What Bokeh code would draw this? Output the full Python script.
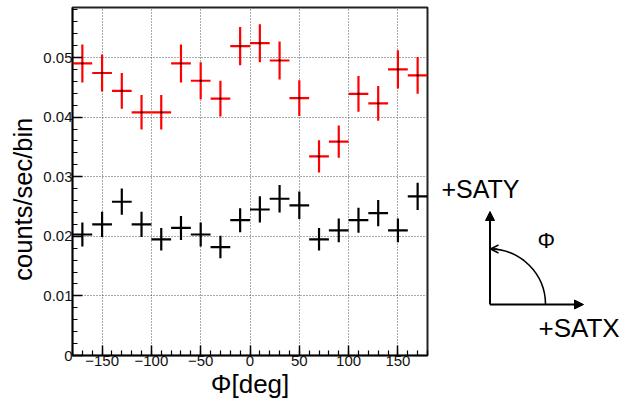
from math import pi
from bokeh.plotting import figure
from bokeh.layouts import row
from bokeh.models import Range1d, FixedTicker, Arrow, NormalHead, OpenHead
from bokeh.core.properties import value
from bokeh.embed import file_html
from bokeh.resources import INLINE

FONT = "Liberation Sans"

# ---- data ----
bin_centers = [-170, -150, -130, -110, -90, -70, -50, -30, -10,
               10, 30, 50, 70, 90, 110, 130, 150, 170]
bin_width = 20
red_vals = [0.0490, 0.0474, 0.0444, 0.0408, 0.0408, 0.0490, 0.0461, 0.0431, 0.0519,
            0.0524, 0.0495, 0.0432, 0.0334, 0.0359, 0.0439, 0.0423, 0.0480, 0.0470]
red_errs = [0.0032, 0.0031, 0.0030, 0.0029, 0.0029, 0.0032, 0.0031, 0.0030, 0.0032,
            0.0032, 0.0032, 0.0030, 0.0027, 0.0027, 0.0030, 0.0029, 0.0032, 0.0031]
black_vals = [0.0203, 0.0220, 0.0258, 0.0220, 0.0195, 0.0214, 0.0203, 0.0182, 0.0227,
              0.0245, 0.0263, 0.0252, 0.0195, 0.0210, 0.0227, 0.0239, 0.0210, 0.0267]
black_errs = [0.0020, 0.0021, 0.0022, 0.0021, 0.0019, 0.0020, 0.0020, 0.0019, 0.0020,
              0.0022, 0.0023, 0.0023, 0.0019, 0.0020, 0.0021, 0.0022, 0.0020, 0.0023]

x_ticks = [-150, -100, -50, 0, 50, 100, 150]
x_tick_labels = ["\u2212150", "\u2212100", "\u221250", "0", "50", "100", "150"]
x_minor = list(range(-180, 181, 10))
y_ticks = [0, 0.01, 0.02, 0.03, 0.04, 0.05]
y_tick_labels = ["0", "0.01", "0.02", "0.03", "0.04", "0.05"]
y_minor = [i * 0.002 for i in range(0, 30)]

x_title = "\u03a6[deg]"
y_title = "counts/sec/bin"

# ---- main plot ----
p = figure(width=430, height=405,
           x_range=Range1d(-180, 180), y_range=Range1d(0, 0.05839),
           output_backend="svg", toolbar_location=None, title=None,
           min_border_left=72, min_border_right=3, min_border_top=7, min_border_bottom=50)
p.align = "start"
p.background_fill_color = "white"
p.border_fill_color = "white"
p.outline_line_color = "#222222"
p.outline_line_width = 2

p.xaxis.ticker = FixedTicker(ticks=x_ticks, minor_ticks=x_minor)
p.yaxis.ticker = FixedTicker(ticks=y_ticks, minor_ticks=y_minor)
p.xaxis.major_label_overrides = {t: s for t, s in zip(x_ticks, x_tick_labels)}
p.yaxis.major_label_overrides = {t: s for t, s in zip(y_ticks, y_tick_labels)}

for ax in (p.xaxis[0], p.yaxis[0]):
    ax.axis_line_color = "black"
    ax.axis_line_width = 1.5
    ax.major_tick_in = 10
    ax.major_tick_out = 0
    ax.minor_tick_in = 5
    ax.minor_tick_out = 0
    ax.major_tick_line_color = "black"
    ax.minor_tick_line_color = "black"
    ax.major_tick_line_width = 1.5
    ax.minor_tick_line_width = 1.2
    ax.major_label_text_font = FONT
    ax.major_label_text_font_size = "15px"
    ax.major_label_text_color = "#111111"
    ax.axis_label_text_font = FONT
    ax.axis_label_text_font_style = "normal"
    ax.axis_label_text_color = "black"

p.xaxis.axis_label = x_title
p.xaxis.axis_label_text_font_size = "26px"
p.xaxis.axis_label_standoff = 0
p.xaxis.major_label_standoff = 0

p.yaxis.axis_label = y_title + "\u00a0" * 5
p.yaxis.axis_label_text_font_size = "25.5px"
p.yaxis.axis_label_standoff = 3
p.yaxis.major_label_standoff = 0

p.grid.grid_line_color = "#555555"
p.grid.grid_line_dash = "1 2"
p.grid.grid_line_width = 1

half = bin_width / 2
for vals, errs, col in ((black_vals, black_errs, "black"), (red_vals, red_errs, "#ff0000")):
    x0 = [c - half for c in bin_centers]
    x1 = [c + half for c in bin_centers]
    ylo = [v - e for v, e in zip(vals, errs)]
    yhi = [v + e for v, e in zip(vals, errs)]
    p.segment(x0=x0, y0=vals, x1=x1, y1=vals, line_color=col, line_width=2.2)
    p.segment(x0=bin_centers, y0=ylo, x1=bin_centers, y1=yhi, line_color=col, line_width=2.2)
    p.scatter(bin_centers, vals, size=1.5, color="black")

# ---- orientation diagram (frame aligned with the main frame: page y 7..355) ----
def Y(y):
    return 355 - y

d = figure(width=201, height=405, x_range=Range1d(430, 631), y_range=Range1d(0, 348),
           output_backend="svg", toolbar_location=None, title=None,
           min_border=0, min_border_top=7, min_border_bottom=50,
           min_border_left=0, min_border_right=0,
           x_axis_location=None, y_axis_location=None)
d.align = "start"
d.grid.visible = False
d.outline_line_color = None
d.background_fill_color = "white"
d.border_fill_color = "white"

d.add_layout(Arrow(x_start=489.5, y_start=Y(304), x_end=489.5, y_end=Y(211),
                   line_width=2, line_color="black",
                   end=NormalHead(size=9, fill_color="black", line_color="black")))
d.add_layout(Arrow(x_start=489.5, y_start=Y(304), x_end=583, y_end=Y(304),
                   line_width=2, line_color="black",
                   end=NormalHead(size=9, fill_color="black", line_color="black")))
d.arc(x=[489.5], y=[Y(304)], radius=55.5, start_angle=0, end_angle=pi / 2,
      line_color="black", line_width=1.6)
d.add_layout(Arrow(x_start=497, y_start=Y(248.5), x_end=490, y_end=Y(248.5),
                   line_width=1.6, line_color="black",
                   end=OpenHead(size=8, line_color="black", line_width=1.5)))

d.text(x=[441], y=[Y(188)], text=["+SATY"], text_font=value(FONT), text_font_size="25px",
       text_align="left", text_baseline="alphabetic", text_color="black")
d.text(x=[537], y=[Y(240)], text=["\u03a6"], text_font=value(FONT), text_font_size="22px",
       text_align="left", text_baseline="alphabetic", text_color="black")
d.text(x=[538], y=[Y(327)], text=["+SATX"], text_font=value(FONT), text_font_size="26px",
       text_align="left", text_baseline="alphabetic", text_color="black")

layout = row(p, d)
open("out.html", "w").write(file_html(layout, INLINE))
